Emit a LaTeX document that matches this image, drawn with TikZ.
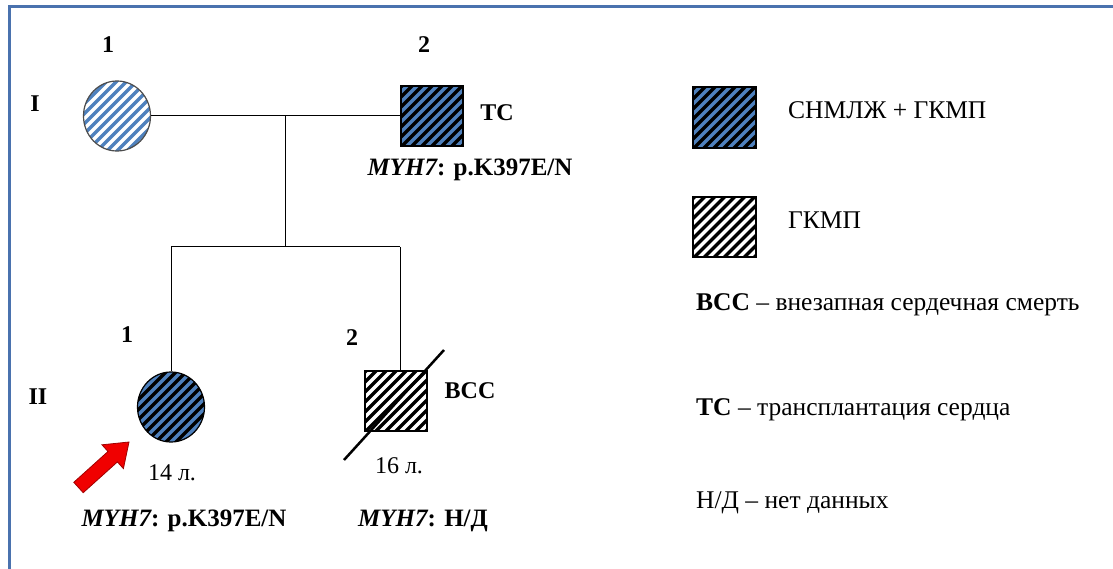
\documentclass[tikz,border=0pt]{standalone}
\usepackage{fontspec}
\setmainfont{Liberation Serif}
\usetikzlibrary{shapes.geometric,calc}
\definecolor{pblue}{HTML}{4F81BD}
\definecolor{bordercol}{HTML}{4A72AE}
\definecolor{arrowred}{HTML}{F00000}
\definecolor{arrowdark}{HTML}{A00000}
\tikzset{
  hatch/.style={path picture={
    \foreach \k in {-12,...,12}{
      \draw[#1, line width=3.4pt] ($(path picture bounding box.center)+(\k*10pt-60pt,-60pt)$) -- ++(120pt,120pt);
    }}},
  pers/.style={draw=black, line width=1.2pt, inner sep=0pt},
  sq/.style={pers, rectangle, minimum width=62pt, minimum height=60pt},
  circ/.style={pers, ellipse, minimum width=67pt, minimum height=70pt},
  affected/.style={fill=pblue, hatch=black},
  lite/.style={fill=pblue, hatch=white, draw=black!70},
  hcm/.style={fill=white, hatch=black},
  lbl/.style={font=\fontsize{24}{28}\selectfont\bfseries, inner sep=0pt},
  txt/.style={font=\fontsize{24}{28}\selectfont, inner sep=0pt},
  legtxt/.style={font=\fontsize{25.5}{30}\selectfont, inner sep=0pt, anchor=west},
  conn/.style={draw=black, line width=1pt},
}
\begin{document}
\begin{tikzpicture}[x=1pt,y=-1pt]
\useasboundingbox (0,0) rectangle (1113,569);
\fill[white] (0,0) rectangle (1113,569);
\draw[bordercol, line width=3pt] (9,569) -- (9,7) -- (1113,7);

% generation I
\node[circ, lite] (I1) at (117,116) {};
\node[sq, affected] (I2) at (432,116) {};
\node[lbl] (n11) at (108,45) {1};
\node[lbl] (n12) at (424,45) {2};
\node[lbl] (genI) at (35,104) {I};
\node[lbl] (tc) at (497,113) {ТС};
\node[lbl, font=\fontsize{25}{29}\selectfont\bfseries] (g12) at (470,170) {\itshape MYH7\upshape: p.K397E/N};

\coordinate (m) at (285,116);
\coordinate (s) at (285,247);
\coordinate (s1) at (171,247);
\coordinate (s2) at (400,247);
\draw[conn] (I1) -- (I2);
\draw[conn] (m) -- (s);
\draw[conn] (s1) -- (s2);

% generation II
\node[circ, affected] (II1) at (171,407) {};
\node[sq, hcm] (II2) at (396,401) {};
\draw[conn] (s1) -- (II1.north);
\draw[conn] (s2) -- (s2 |- II2.north);
\coordinate (d1) at (344,460);
\coordinate (d2) at (444,350);
\draw[black, line width=2.5pt] (d1) -- (d2);
\node[lbl] (n21) at (127,335) {1};
\node[lbl] (n22) at (352,338) {2};
\node[lbl] (genII) at (38,397) {II};
\node[lbl] (vss) at (470,391) {ВСС};
\node[txt] (age1) at (172,473) {14 л.};
\node[txt] (age2) at (399,466) {16 л.};
\node[lbl, font=\fontsize{25}{29}\selectfont\bfseries] (g21) at (184,521) {\itshape MYH7\upshape: p.K397E/N};
\node[lbl, font=\fontsize{25}{29}\selectfont\bfseries] (g22) at (423,521) {\itshape MYH7\upshape: Н/Д};

% proband arrow
\filldraw[fill=arrowred, draw=arrowdark, line width=0.8pt]
  (129,442) -- (102,444.8) -- (108,451.5) -- (73.8,482.3) -- (83.2,492.7)
  -- (117.4,461.9) -- (123.4,468.6) -- cycle;

% legend
\node[sq, affected, minimum width=63pt, minimum height=61pt] (L1) at (724.5,117.5) {};
\node[sq, hcm, minimum width=63pt, minimum height=60pt] (L2) at (724.5,227) {};
\node[legtxt] (L1t) at (788,110) {СНМЛЖ + ГКМП};
\node[legtxt] (L2t) at (788,220) {ГКМП};
\node[legtxt] (L3t) at (696,305) {\textbf{ВСС} – внезапная сердечная смерть};
\node[legtxt] (L4t) at (696,410) {\textbf{ТС} – трансплантация сердца};
\node[legtxt] (L5t) at (696,503) {Н/Д – нет данных};
\end{tikzpicture}
\end{document}
